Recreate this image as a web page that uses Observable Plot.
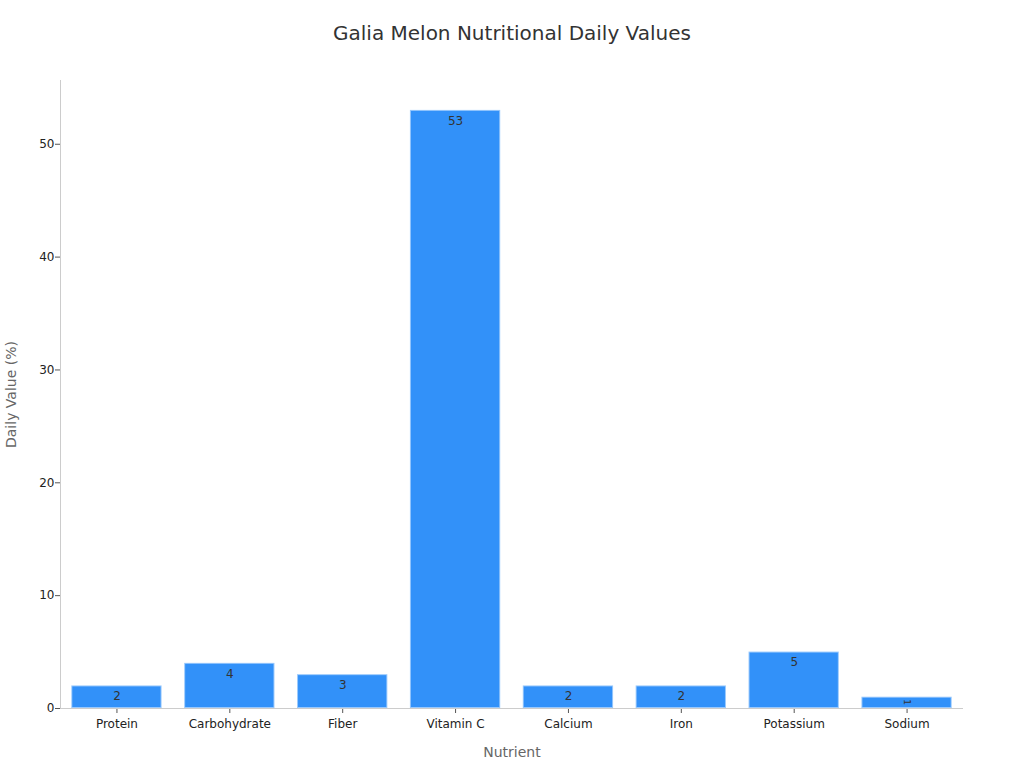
<!DOCTYPE html>
<html>
<head>
<meta charset="utf-8">
<script src="https://cdn.jsdelivr.net/npm/d3@7"></script>
<script src="https://cdn.jsdelivr.net/npm/@observablehq/plot@0.6"></script>
<style>
  body { margin: 0; background: #fff; font-family: "DejaVu Sans", sans-serif; }
  #title { height: 60px; width: 1024px; text-align: center; font-size: 20px; color: #333; line-height: 66px; }
</style>
</head>
<body>
<div id="title">Galia Melon Nutritional Daily Values</div>
<div id="chart"></div>
<script>
const nutrients = ["Protein", "Carbohydrate", "Fiber", "Vitamin C", "Calcium", "Iron", "Potassium", "Sodium"];
const dailyValues = [2, 4, 3, 53, 2, 2, 5, 1];
const yTicks = [0, 10, 20, 30, 40, 50];

const data = nutrients.map((n, i) => ({nutrient: n, value: dailyValues[i]}));
const tall = data.filter(d => d.value >= 2);
const short = data.filter(d => d.value < 2);

const chart = Plot.plot({
  width: 1024,
  height: 708,
  marginTop: 20,
  marginBottom: 60,
  marginLeft: 60,
  marginRight: 61,
  style: {fontFamily: "DejaVu Sans, sans-serif", fontSize: "12px", color: "#222", background: "#fff"},
  x: {domain: nutrients, paddingInner: 0.2, paddingOuter: 0.1, round: false, label: "Nutrient", labelAnchor: "center", labelOffset: 48, tickSize: 5, tickPadding: 6},
  y: {domain: [0, 55.65], ticks: yTicks, label: "Daily Value (%)", labelArrow: "none", labelAnchor: "center", labelOffset: 54, tickSize: 5, tickPadding: 1},
  marks: [
    Plot.barY(data, {x: "nutrient", y: "value", fill: "#3291f9", stroke: "#ffffff", strokeOpacity: 0.5, strokeWidth: 2}),
    Plot.text(tall, {x: "nutrient", y: "value", text: d => String(d.value), dy: 10.5, fill: "#333", fontSize: 12}),
    Plot.text(short, {x: "nutrient", y: "value", text: d => String(d.value), dy: 5, rotate: 90, fill: "#333", fontSize: 9}),
    Plot.frame({anchor: "left", stroke: "#ccc"}),
    Plot.ruleY([0], {stroke: "#ccc"})
  ]
});

d3.select(chart).selectAll("[aria-label='x-axis label'] text, [aria-label='y-axis label'] text")
  .attr("fill", "#666").style("font-size", "14px");
d3.select(chart).selectAll("[aria-label='x-axis tick'], [aria-label='y-axis tick']").attr("stroke", "#555");
document.getElementById("chart").appendChild(chart);
</script>
</body>
</html>
